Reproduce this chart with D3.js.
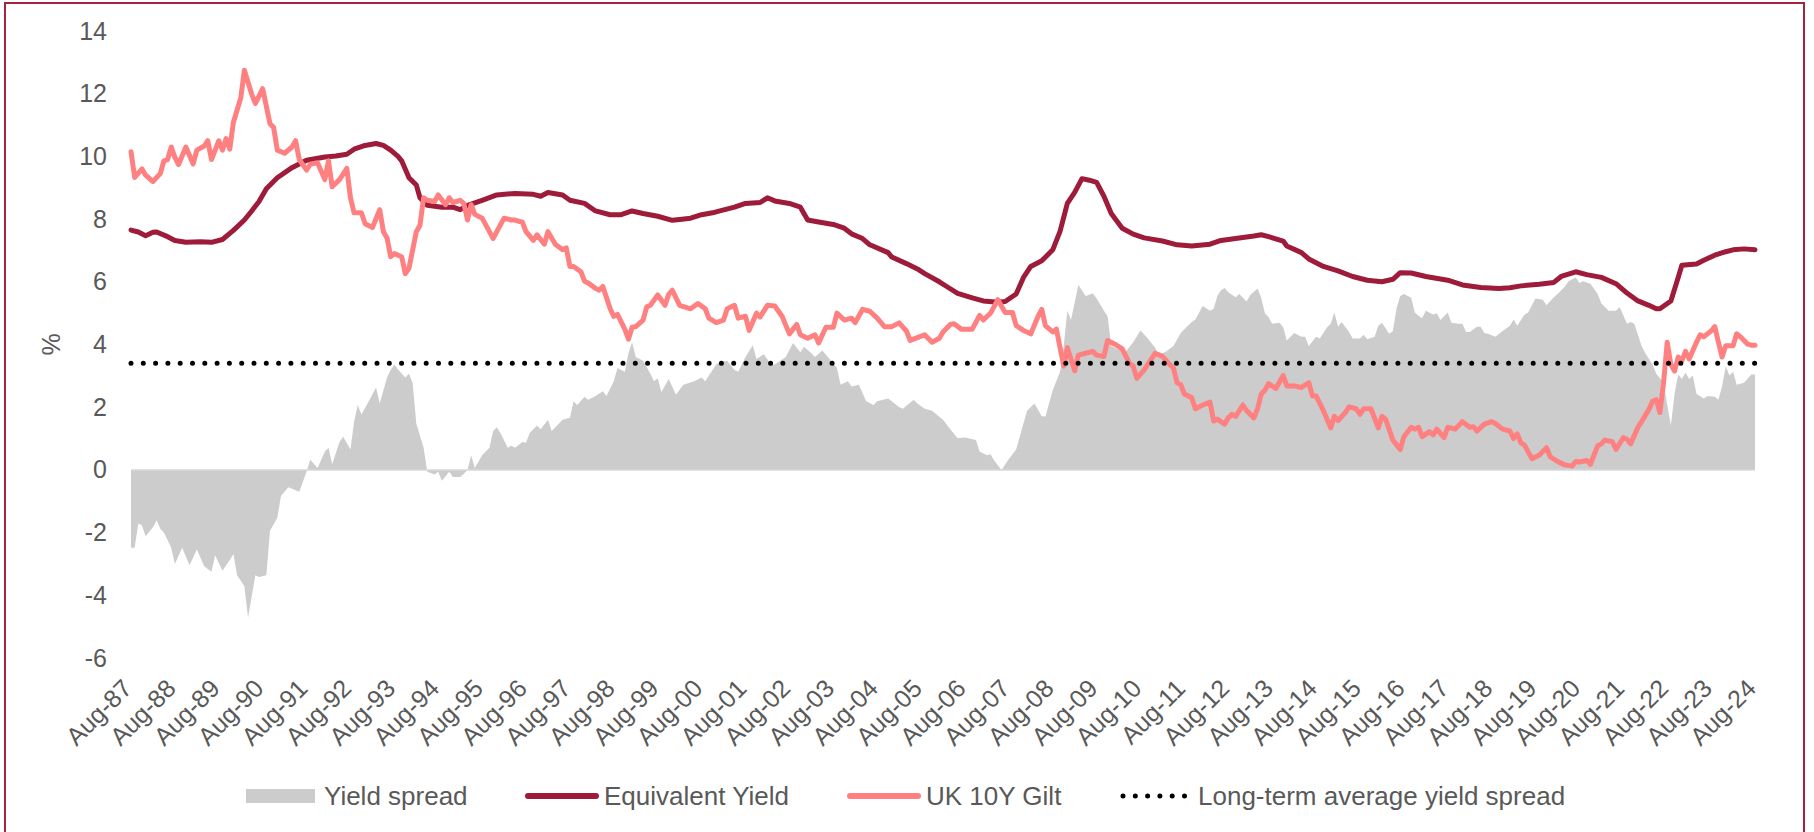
<!DOCTYPE html>
<html>
<head>
<meta charset="utf-8">
<script src="https://cdn.jsdelivr.net/npm/d3@7"></script>
<style>
  html, body { margin: 0; padding: 0; background: #fff; }
  svg { display: block; font-family: "Liberation Sans", Arial, sans-serif; }
</style>
</head>
<body>
<div id="chart"></div>
<script>
// Months are counted from Aug-87 (0) to Aug-24 (444)
const tickLabels = ["Aug-87","Aug-88","Aug-89","Aug-90","Aug-91","Aug-92","Aug-93","Aug-94","Aug-95","Aug-96",
  "Aug-97","Aug-98","Aug-99","Aug-00","Aug-01","Aug-02","Aug-03","Aug-04","Aug-05","Aug-06","Aug-07","Aug-08",
  "Aug-09","Aug-10","Aug-11","Aug-12","Aug-13","Aug-14","Aug-15","Aug-16","Aug-17","Aug-18","Aug-19","Aug-20",
  "Aug-21","Aug-22","Aug-23","Aug-24"];
const yTicks = [-6, -4, -2, 0, 2, 4, 6, 8, 10, 12, 14];

const avgSpread = 3.4;

// [month, %]
const giltYield = [[0,10.15],[1,9.33],[3,9.6],[4,9.4],[6,9.2],[8,9.45],[9,9.86],[10,9.9],[11,10.3],[12,9.97],[13,9.74],
  [15,10.3],[17,9.76],[18,10.2],[20,10.33],[21,10.5],[22,9.9],[24,10.5],[25,10.2],[26,10.57],[27,10.23],[28,11.09],
  [30,11.86],[31,12.75],[33,11.98],[34,11.69],[36,12.16],[38,11.04],[39,10.92],[40,10.2],[42,10.1],[44,10.3],[45,10.5],
  [46,9.9],[48,9.56],[49,9.75],[51,9.8],[53,9.26],[54,9.86],[55,9.03],[57,9.26],[59,9.62],[60,8.68],[61,8.2],[63,8.2],
  [64,7.85],[66,7.73],[68,8.3],[69,7.6],[70,7.4],[71,6.8],[72,6.9],[74,6.8],[75,6.26],[76,6.43],[78,7.6],[79,7.8],
  [80,8.68],[81,8.6],[83,8.56],[84,8.77],[86,8.46],[87,8.68],[88,8.53],[90,8.6],[91,8.5],[92,7.97],[93,8.46],[94,8.15],
  [96,8.03],[98,7.6],[99,7.38],[100,7.6],[102,8.03],[104,7.97],[105,7.97],[107,7.9],[108,7.6],[110,7.32],[111,7.5],
  [113,7.2],[114,7.6],[116,7.2],[118,7.02],[119,7.08],[120,6.49],[121,6.49],[123,6.32],[124,6.02],[125,5.96],[127,5.79],
  [128,5.73],[129,5.85],[131,5.14],[132,4.9],[133,4.96],[135,4.49],[136,4.17],[137,4.55],[138,4.57],[140,4.78],[141,5.2],
  [142,5.25],[144,5.58],[146,5.25],[147,5.6],[148,5.73],[150,5.25],[153,5.14],[155,5.31],[157,5.14],[158,4.84],[160,4.7],
  [162,4.78],[163,5.14],[165,5.25],[166,4.84],[168,4.9],[169,4.45],[171,5.0],[172,4.88],[174,5.25],[176,5.23],[178,4.9],
  [180,4.34],[182,4.64],[183,4.31],[185,4.2],[187,4.31],[188,4.05],[190,4.55],[192,4.55],[193,5.0],[195,4.78],[197,4.84],
  [198,4.7],[200,5.12],[202,5.06],[204,4.84],[206,4.57],[208,4.57],[210,4.69],[212,4.43],[213,4.13],[215,4.22],[217,4.31],
  [219,4.07],[221,4.2],[222,4.4],[224,4.64],[225,4.66],[227,4.49],[230,4.49],[232,4.93],[233,4.78],[235,5.0],[237,5.43],
  [239,5.02],[241,5.02],[242,4.6],[244,4.45],[246,4.34],[248,4.9],[249,5.12],[250,4.6],[252,4.4],[253,4.49],[255,3.31],
  [256,3.9],[258,3.16],[259,3.66],[261,3.72],[263,3.78],[264,3.66],[266,3.62],[267,4.13],[269,4.01],[271,3.86],[273,3.39],
  [274,3.31],[275,2.92],[277,3.19],[280,3.72],[282,3.62],[284,3.36],[285,3.25],[286,2.78],[287,2.72],[288,2.42],[290,2.3],
  [291,1.95],[293,2.07],[295,2.16],[296,1.56],[297,1.62],[299,1.46],[300,1.66],[301,1.77],[302,1.71],[304,2.07],[305,1.89],
  [307,1.66],[308,1.95],[309,2.42],[310,2.54],[311,2.75],[313,2.6],[315,3.01],[316,2.68],[318,2.68],[320,2.63],[322,2.78],
  [323,2.36],[324,2.36],[326,1.89],[328,1.34],[329,1.71],[330,1.57],[332,1.83],[333,2.01],[335,1.95],[336,1.77],[337,1.95],
  [339,1.95],[341,1.34],[342,1.71],[343,1.62],[345,0.95],[347,0.65],[348,1.06],[350,1.36],[351,1.3],[352,1.36],[353,1.06],
  [355,1.22],[356,1.12],[357,1.3],[359,1.03],[360,1.36],[362,1.3],[364,1.54],[366,1.36],[367,1.38],[368,1.24],[370,1.46],
  [372,1.54],[373,1.48],[375,1.3],[377,1.24],[378,1.0],[379,1.15],[380,0.86],[381,0.79],[383,0.36],[385,0.47],[387,0.71],
  [388,0.42],[390,0.27],[392,0.16],[394,0.12],[395,0.27],[396,0.25],[398,0.3],[399,0.18],[401,0.77],[402,0.83],[403,0.95],
  [405,0.9],[406,0.65],[408,1.03],[409,0.98],[410,0.83],[412,1.36],[413,1.54],[415,1.93],[416,2.19],[417,2.24],[418,1.83],
  [419,2.78],[420,4.07],[421,3.36],[422,3.15],[423,3.6],[424,3.48],[425,3.78],[426,3.54],[428,4.07],[429,4.31],[430,4.25],
  [432,4.43],[433,4.57],[434,4.07],[435,3.6],[436,3.96],[438,3.96],[439,4.34],[440,4.25],[442,4.01],[443,3.98],[444,3.98]];

const equivalentYield = [[0,7.65],[2,7.59],[4,7.47],[6,7.58],[7,7.59],[10,7.44],[12,7.32],[15,7.26],[19,7.28],[22,7.26],
  [25,7.35],[28,7.64],[31,7.97],[33,8.26],[35,8.56],[37,8.97],[40,9.32],[44,9.64],[48,9.88],[53,9.98],[56,10.01],[59,10.07],
  [61,10.23],[64,10.35],[67,10.41],[69,10.35],[71,10.2],[73,10.0],[74,9.86],[76,9.32],[78,9.09],[79,8.68],[81,8.44],
  [85,8.38],[88,8.38],[90,8.3],[92,8.44],[96,8.6],[100,8.77],[105,8.82],[110,8.79],[112,8.73],[114,8.85],[118,8.77],
  [120,8.6],[124,8.5],[127,8.26],[131,8.14],[134,8.14],[137,8.26],[140,8.18],[144,8.09],[148,7.96],[150,7.99],[153,8.03],
  [156,8.14],[159,8.2],[161,8.26],[165,8.38],[168,8.5],[172,8.53],[174,8.68],[176,8.58],[180,8.5],[183,8.38],[185,7.97],
  [188,7.91],[192,7.83],[195,7.71],[197,7.53],[200,7.38],[202,7.18],[207,6.93],[208,6.79],[212,6.58],[215,6.41],[217,6.26],
  [221,6.0],[223,5.85],[226,5.63],[230,5.49],[233,5.39],[237,5.35],[239,5.37],[242,5.61],[244,6.14],[246,6.49],[249,6.67],
  [252,7.02],[254,7.61],[256,8.5],[258,8.85],[260,9.29],[262,9.24],[264,9.17],[266,8.73],[268,8.18],[271,7.71],[274,7.52],
  [277,7.4],[282,7.3],[286,7.18],[290,7.14],[295,7.2],[298,7.32],[302,7.38],[307,7.46],[309,7.5],[311,7.44],[315,7.3],
  [316,7.14],[320,6.93],[322,6.73],[326,6.49],[330,6.35],[334,6.17],[338,6.05],[342,6.0],[345,6.08],[347,6.29],[350,6.28],
  [354,6.17],[360,6.05],[364,5.9],[369,5.82],[374,5.79],[377,5.81],[380,5.87],[385,5.92],[389,5.98],[391,6.17],[395,6.32],
  [398,6.23],[402,6.14],[406,5.94],[409,5.64],[412,5.39],[415,5.25],[417,5.14],[418,5.14],[421,5.39],[423,6.14],[424,6.53],
  [428,6.57],[430,6.69],[433,6.85],[436,6.96],[438,7.02],[441,7.05],[444,7.02]];

const yieldSpread = [[0,-2.48],[1,-2.48],[2,-1.71],[3,-1.77],[4,-2.12],[6,-1.83],[7,-1.61],[8,-1.88],[9,-2.0],[11,-2.48],
  [12,-3.0],[14,-2.48],[16,-3.04],[18,-2.54],[20,-3.07],[22,-3.25],[23,-2.72],[25,-3.22],[27,-2.87],[28,-2.68],[29,-3.36],
  [31,-3.71],[32,-4.72],[34,-3.36],[35,-3.42],[37,-3.36],[38,-1.94],[40,-1.53],[41,-0.83],[43,-0.55],[46,-0.7],[48,-0.06],
  [49,0.32],[51,0.06],[53,0.59],[54,0.71],[55,0.18],[57,0.89],[58,1.06],[60,0.65],[61,1.54],[62,2.07],[63,1.77],[65,2.19],
  [67,2.63],[68,2.12],[70,2.95],[71,3.19],[72,3.36],[73,3.2],[75,2.95],[76,3.07],[77,2.78],[78,1.48],[80,0.71],[81,-0.06],
  [83,-0.15],[84,-0.06],[85,-0.35],[87,-0.06],[88,-0.23],[90,-0.23],[91,-0.12],[92,0],[93,0.47],[94,0.06],[96,0.47],
  [98,0.71],[99,1.24],[100,1.36],[101,1.18],[103,0.71],[104,0.77],[105,0.71],[107,0.89],[108,0.87],[109,1.18],[111,1.42],
  [112,1.3],[114,1.6],[115,1.24],[118,1.6],[120,1.66],[121,2.19],[122,2.07],[124,2.33],[125,2.24],[127,2.36],[129,2.51],
  [130,2.36],[132,2.83],[133,3.25],[135,3.13],[136,3.72],[137,4.07],[138,3.6],[140,3.48],[142,3.07],[143,2.83],[144,2.92],
  [145,2.48],[147,2.9],[149,2.4],[151,2.72],[154,2.83],[156,2.95],[157,2.83],[158,3.01],[160,3.36],[161,3.43],[163,3.48],
  [165,3.19],[166,3.13],[168,3.6],[170,3.98],[171,3.54],[173,3.69],[175,3.36],[176,3.36],[179,3.6],[181,4.05],[183,3.75],
  [184,3.93],[186,3.72],[187,3.6],[189,3.81],[191,3.54],[193,3.25],[194,2.72],[196,2.83],[197,2.66],[199,2.72],[201,2.19],
  [203,2.07],[204,2.19],[207,2.28],[210,2.01],[211,1.95],[214,2.24],[215,2.12],[217,1.95],[219,1.89],[222,1.6],[224,1.3],
  [226,1.01],[228,1.03],[231,0.95],[232,0.59],[234,0.47],[235,0.5],[236,0.3],[238,0],[240,0.35],[242,0.65],[244,1.48],
  [245,1.89],[247,2.12],[249,1.71],[250,1.7],[252,2.54],[254,3.13],[255,3.95],[256,5.08],[257,4.78],[259,5.9],[261,5.55],
  [263,5.63],[264,5.47],[266,5.08],[267,4.9],[268,3.95],[270,3.84],[272,3.78],[274,4.07],[276,4.45],[278,4.19],[280,3.9],
  [281,3.66],[283,3.78],[285,3.95],[287,4.37],[288,4.49],[290,4.72],[291,4.8],[293,5.23],[295,5.08],[296,5.14],[297,5.55],
  [298,5.73],[299,5.8],[300,5.67],[302,5.51],[303,5.61],[305,5.37],[306,5.58],[308,5.79],[309,5.49],[310,5.0],[311,4.88],
  [312,4.66],[314,4.69],[315,4.55],[316,4.13],[318,4.37],[320,4.25],[321,4.25],[322,3.95],[324,4.25],[325,4.19],[327,4.55],
  [328,4.66],[329,5.02],[330,4.57],[331,4.72],[333,4.4],[334,4.19],[336,4.19],[337,4.31],[338,4.17],[340,4.25],[341,4.6],
  [342,4.69],[344,4.34],[345,4.43],[346,5.16],[347,5.55],[348,5.61],[350,5.49],[351,5.02],[352,4.92],[353,4.84],[354,5.08],
  [356,4.96],[357,5.0],[358,4.78],[360,5.02],[361,4.69],[363,4.66],[364,4.66],[365,4.4],[366,4.4],[368,4.57],[369,4.57],
  [370,4.37],[371,4.34],[373,4.25],[375,4.43],[377,4.6],[378,4.8],[379,4.6],[381,4.96],[382,5.02],[383,5.25],[384,5.47],
  [386,5.43],[387,5.25],[389,5.51],[390,5.61],[392,5.84],[393,6.02],[395,6.14],[396,5.96],[397,6.02],[399,5.94],[401,5.61],
  [402,5.31],[404,5.08],[406,5.08],[407,5.2],[409,4.66],[410,4.72],[411,4.66],[413,3.95],[414,3.72],[416,3.36],[417,3.07],
  [419,2.78],[420,2.07],[421,1.42],[422,2.42],[423,3.04],[424,2.9],[425,3.1],[426,2.9],[427,3.01],[428,2.42],[430,2.28],
  [431,2.36],[433,2.33],[434,2.24],[435,2.66],[436,3.31],[437,3.01],[438,3.13],[439,2.72],[441,2.78],[443,3.04],[444,3.04]];

const legendItems = [
  { label: "Yield spread", kind: "area" },
  { label: "Equivalent Yield", kind: "ey" },
  { label: "UK 10Y Gilt", kind: "gilt" },
  { label: "Long-term average yield spread", kind: "avg" }
];

const W = 1814, H = 832;
const plot = { left: 131, right: 1755, top: 31, bottom: 658 };
const colors = { area: "#cccccc", ey: "#9e1b3a", gilt: "#ff8080", avg: "#000000", text: "#595959", border: "#a6223f" };

const svg = d3.select("#chart").append("svg").attr("width", W).attr("height", H);

// Frame
svg.append("rect")
  .attr("x", 5).attr("y", 3).attr("width", 1799).attr("height", 850)
  .attr("fill", "none").attr("stroke", colors.border).attr("stroke-width", 2);

const x = d3.scaleLinear().domain([0, 444]).range([plot.left, plot.right]);
const y = d3.scaleLinear().domain([-6, 14]).range([plot.bottom, plot.top]);

// Y axis labels (plain hyphen for negatives, as in the original)
const yAxis = svg.append("g")
  .attr("transform", `translate(${plot.left - 24},0)`)
  .call(d3.axisLeft(y).tickValues(yTicks).tickSize(0).tickPadding(0).tickFormat(d => String(d)));
yAxis.select(".domain").remove();
yAxis.selectAll("text")
  .attr("x", 0)
  .style("font-size", "25px")
  .style("font-family", "'Liberation Sans', Arial, sans-serif")
  .attr("fill", colors.text);

svg.append("text")
  .attr("transform", `translate(60,${(plot.top + plot.bottom) / 2}) rotate(-90)`)
  .attr("text-anchor", "middle")
  .style("font-size", "25px")
  .attr("fill", colors.text)
  .text("%");

// Spread area
const area = d3.area()
  .x(d => x(d[0]))
  .y0(y(0))
  .y1(d => y(d[1]));
svg.append("path").datum(yieldSpread)
  .attr("d", area)
  .attr("fill", colors.area);

// Zero line
svg.append("line")
  .attr("x1", plot.left).attr("x2", plot.right)
  .attr("y1", y(0)).attr("y2", y(0))
  .attr("stroke", "#d9d9d9").attr("stroke-width", 1.5);

// X axis labels
const xAxis = svg.append("g")
  .attr("transform", "translate(0,690)")
  .call(d3.axisBottom(x).tickValues(d3.range(0, 445, 12)).tickSize(0)
    .tickFormat((d, i) => tickLabels[i]));
xAxis.select(".domain").remove();
xAxis.selectAll("text")
  .attr("x", 0).attr("y", 0).attr("dy", 0)
  .attr("transform", "translate(2,0) rotate(-45)")
  .style("text-anchor", "end")
  .style("font-size", "25px")
  .style("font-family", "'Liberation Sans', Arial, sans-serif")
  .attr("fill", colors.text);

// Lines
const line = d3.line().x(d => x(d[0])).y(d => y(d[1]));
svg.append("path").datum(equivalentYield)
  .attr("d", line).attr("fill", "none")
  .attr("stroke", colors.ey).attr("stroke-width", 5)
  .attr("stroke-linejoin", "round").attr("stroke-linecap", "round");
svg.append("path").datum(giltYield)
  .attr("d", line).attr("fill", "none")
  .attr("stroke", colors.gilt).attr("stroke-width", 5)
  .attr("stroke-linejoin", "round").attr("stroke-linecap", "round");

// Long-term average
svg.append("line")
  .attr("x1", plot.left).attr("x2", plot.right)
  .attr("y1", y(avgSpread)).attr("y2", y(avgSpread))
  .attr("stroke", colors.avg).attr("stroke-width", 5)
  .attr("stroke-linecap", "round").attr("stroke-dasharray", "0 12.3");

// Legend
const legendX = [246, 526, 848, 1120];
const legendY = 796;
const lg = svg.append("g");
legendItems.forEach((item, i) => {
  const g = lg.append("g").attr("transform", `translate(${legendX[i]},${legendY})`);
  if (item.kind === "area") {
    g.append("rect").attr("x", 0).attr("y", -7).attr("width", 69).attr("height", 14).attr("fill", colors.area);
  } else if (item.kind === "avg") {
    g.append("line").attr("x1", 3).attr("x2", 72).attr("y1", 0).attr("y2", 0)
      .attr("stroke", colors.avg).attr("stroke-width", 5)
      .attr("stroke-linecap", "round").attr("stroke-dasharray", "0 12.3");
  } else {
    g.append("line").attr("x1", 2).attr("x2", 70).attr("y1", 0).attr("y2", 0)
      .attr("stroke", colors[item.kind]).attr("stroke-width", 6).attr("stroke-linecap", "round");
  }
  g.append("text")
    .attr("x", 78).attr("y", 0).attr("dy", "0.35em")
    .style("font-size", "26px")
    .attr("fill", colors.text)
    .text(item.label);
});
</script>
</body>
</html>
